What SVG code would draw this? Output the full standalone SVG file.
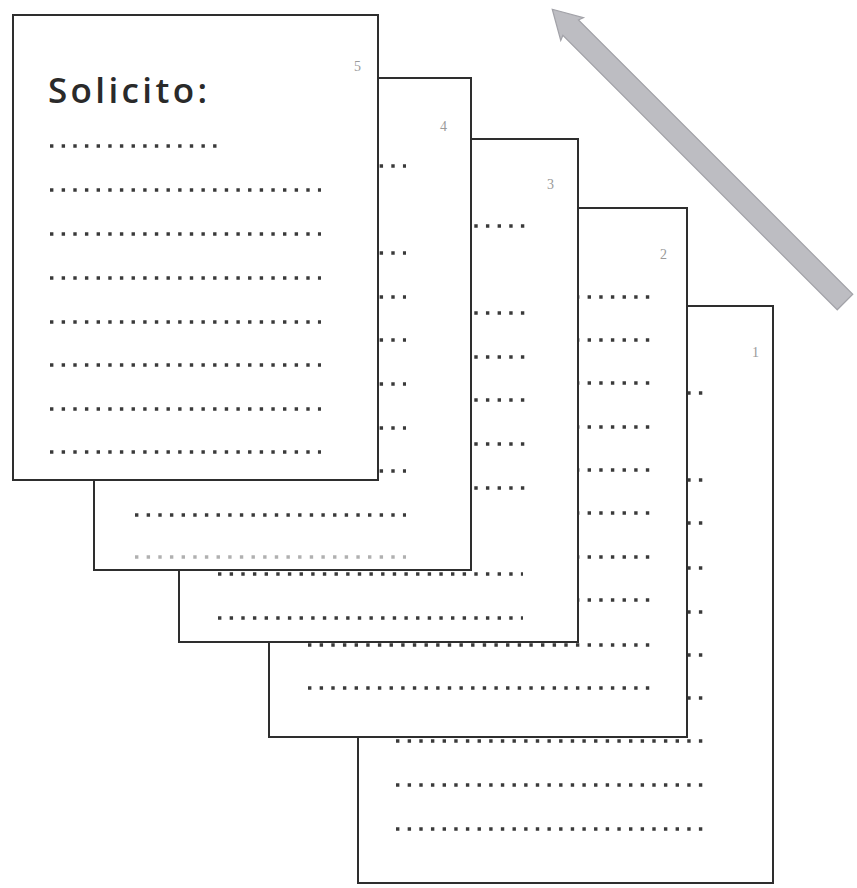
<svg xmlns="http://www.w3.org/2000/svg" width="857" height="888" viewBox="0 0 857 888">
<style>
.page{fill:#fff;stroke:#2e2e2e;stroke-width:2}
.dots{stroke:#3a3a3a;stroke-width:3.4;stroke-dasharray:3.4 8.25;fill:none}
.num{font-family:"Liberation Serif",serif;font-size:14px;fill:#9a9a9a}
.title{font-family:"Open Sans","Noto Sans",sans-serif;font-size:35px;font-weight:600;fill:#2a2a2a}
</style>
<rect width="857" height="888" fill="#fff"/>
<g id="arrow">
<polygon transform="translate(845,302) rotate(-135)" points="0,-11 388,-11 386,-16 414,0 386,16 388,11 0,11" fill="#bdbdc2" stroke="#a2a2a8" stroke-width="1.2"/>
</g>
<g id="page1">
<rect class="page" x="358" y="306" width="415" height="577" stroke="#555"/>
<text class="num" x="752" y="357">1</text>
<line class="dots" x1="396" y1="393" x2="703" y2="393"/>
<line class="dots" x1="396" y1="480" x2="703" y2="480"/>
<line class="dots" x1="396" y1="523" x2="703" y2="523"/>
<line class="dots" x1="396" y1="568" x2="703" y2="568"/>
<line class="dots" x1="396" y1="612" x2="703" y2="612"/>
<line class="dots" x1="396" y1="655" x2="703" y2="655"/>
<line class="dots" x1="396" y1="698" x2="703" y2="698"/>
<line class="dots" x1="396" y1="741" x2="703" y2="741"/>
<line class="dots" x1="396" y1="785" x2="703" y2="785"/>
<line class="dots" x1="396" y1="829" x2="703" y2="829"/>
</g>
<g id="page2">
<rect class="page" x="269" y="208" width="418" height="529"/>
<text class="num" x="660" y="259">2</text>
<line class="dots" x1="308" y1="297" x2="650" y2="297"/>
<line class="dots" x1="308" y1="340" x2="650" y2="340"/>
<line class="dots" x1="308" y1="383" x2="650" y2="383"/>
<line class="dots" x1="308" y1="427" x2="650" y2="427"/>
<line class="dots" x1="308" y1="470" x2="650" y2="470"/>
<line class="dots" x1="308" y1="513" x2="650" y2="513"/>
<line class="dots" x1="308" y1="557" x2="650" y2="557"/>
<line class="dots" x1="308" y1="600" x2="650" y2="600"/>
<line class="dots" x1="308" y1="645" x2="650" y2="645"/>
<line class="dots" x1="308" y1="688" x2="650" y2="688"/>
</g>
<g id="page3">
<rect class="page" x="179" y="139" width="399" height="503"/>
<text class="num" x="547" y="189">3</text>
<line class="dots" x1="218" y1="226" x2="529" y2="226"/>
<line class="dots" x1="218" y1="313" x2="529" y2="313"/>
<line class="dots" x1="218" y1="357" x2="529" y2="357"/>
<line class="dots" x1="218" y1="400" x2="529" y2="400"/>
<line class="dots" x1="218" y1="444" x2="529" y2="444"/>
<line class="dots" x1="218" y1="488" x2="529" y2="488"/>
<line class="dots" x1="218" y1="574" x2="523" y2="574"/>
<line class="dots" x1="218" y1="618" x2="523" y2="618"/>
</g>
<g id="page4">
<rect class="page" x="94" y="78" width="377" height="492"/>
<text class="num" x="440" y="131">4</text>
<line class="dots" x1="135" y1="166" x2="406" y2="166"/>
<line class="dots" x1="135" y1="253" x2="406" y2="253"/>
<line class="dots" x1="135" y1="297" x2="406" y2="297"/>
<line class="dots" x1="135" y1="340" x2="406" y2="340"/>
<line class="dots" x1="135" y1="384" x2="406" y2="384"/>
<line class="dots" x1="135" y1="428" x2="406" y2="428"/>
<line class="dots" x1="135" y1="471" x2="406" y2="471"/>
<line class="dots" x1="135" y1="515" x2="406" y2="515"/>
<line class="dots" x1="135" y1="557" x2="406" y2="557" opacity="0.4"/>
</g>
<g id="page5">
<rect class="page" x="13" y="15" width="365" height="465" stroke-width="2.5"/>
<text class="num" x="354" y="71" fill="#bbb">5</text>
<text class="title" x="48" y="103" textLength="159" lengthAdjust="spacing">Solicito:</text>
<line class="dots" x1="50" y1="146" x2="219" y2="146"/>
<line class="dots" x1="50" y1="190" x2="321" y2="190"/>
<line class="dots" x1="50" y1="234" x2="321" y2="234"/>
<line class="dots" x1="50" y1="278" x2="321" y2="278"/>
<line class="dots" x1="50" y1="322" x2="321" y2="322"/>
<line class="dots" x1="50" y1="365" x2="321" y2="365"/>
<line class="dots" x1="50" y1="409" x2="321" y2="409"/>
<line class="dots" x1="50" y1="452" x2="321" y2="452"/>
</g>
</svg>
